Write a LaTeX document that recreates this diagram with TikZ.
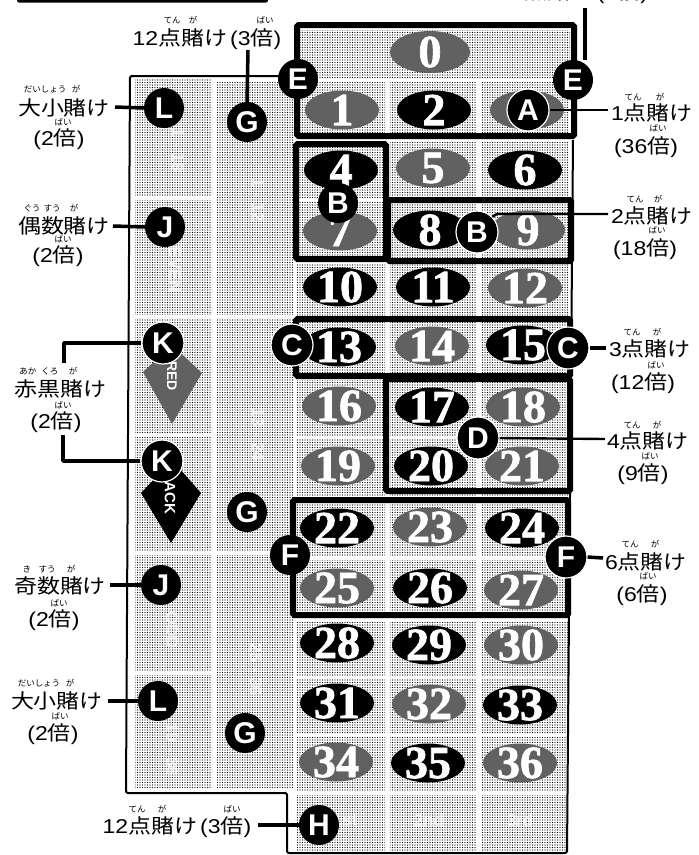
\documentclass[tikz,border=0pt]{standalone}
\usepackage{fontspec}
\usepackage{graphicx}
\setmainfont{Liberation Sans}
\newfontfamily\jp{Noto Sans CJK JP}
\newfontfamily\numfont{Liberation Serif Bold}[FakeBold=1.6]
\usetikzlibrary{patterns.meta,shapes.geometric}
\newcommand{\J}[1]{{\jp #1}}
\tikzset{
  cellbox/.style={pattern={Dots[distance=2.5pt,radius=0.62pt]},pattern color=black,draw=none},
  frameline/.style={draw=black,line width=2pt,line join=round},
  betbox/.style={draw=black,line width=6pt,rounded corners=1.5pt},
  redchip/.style={ellipse,fill=black!62,minimum width=74pt,minimum height=39pt,inner sep=0pt},
  blackchip/.style={ellipse,fill=black,minimum width=74pt,minimum height=39pt,inner sep=0pt},
  numtext/.style={text=white,font=\numfont\fontsize{46}{46}\selectfont,inner sep=0pt},
  marker/.style={circle,fill=black,minimum size=40pt,inner sep=0pt,text=white,font=\bfseries\fontsize{30}{30}\selectfont},
  halomarker/.style={marker,draw=white,line width=1.2pt,minimum size=42pt},
  conn/.style={draw=black,line width=3.5pt},
  thinconn/.style={draw=black,line width=2.4pt},
  lab/.style={font=\fontsize{23}{23}\selectfont,inner sep=1pt,text=black,anchor=base,yshift=-8pt,yscale=.87,transform shape},
  ruby/.style={font=\jp\fontsize{8.5}{8.5}\selectfont,inner sep=0pt,text=black},
  faint/.style={text=white,opacity=.75,font=\bfseries\fontsize{17}{17}\selectfont,inner sep=0pt},
}
\newcommand{\chipnum}[5]{% name,x,y,style,text
  \node[#4] (chip#1) at (#2,#3) {};
  \node[numtext] (num#1) at (#2,#3) {#5};
}
\begin{document}
\begin{tikzpicture}[x=1pt,y=-1pt]
\useasboundingbox (0,0) rectangle (699,855);
\clip (0,0) rectangle (699,855);
% top remnants
\fill[black,rounded corners=2pt] (17,-20) rectangle (268,2.5);
% cells: left columns
\foreach \a/\b in {79/195,200/314,318/432,437/550,555/670,675/787}
  \fill[cellbox] (135,\a) rectangle (212,\b);
\foreach \a/\b in {82/314,318/550,555/787}
  \fill[cellbox] (217,\a) rectangle (293,\b);
% cells: numbers
\fill[cellbox] (297,30) rectangle (570,78);
\foreach \a/\b in {82/136,142/197,201/258,264/316,322/375,380/435,439/495,502/555,560/615,622/675,678/733,737/790,795/851}{
  \fill[cellbox] (297,\a) rectangle (385,\b);
  \fill[cellbox] (390,\a) rectangle (476,\b);
  \fill[cellbox] (481,\a) rectangle (568,\b);
}
% faint table printing
\node[faint,rotate=-90] (tG1) at (258,200) {1 - 12};
\node[faint,rotate=-90] (tG2) at (258,435) {13 - 24};
\node[faint,rotate=-90] (tG3) at (256,670) {25 - 36};
\node[faint,rotate=-90] (tL1) at (178,150) {1 - 18};
\node[faint,rotate=-90] (tL2) at (175,270) {EVEN};
\node[faint,rotate=-90] (tL3) at (172,630) {ODD};
\node[faint,rotate=-90] (tL4) at (172,750) {19 - 36};
\node[faint] (t1st) at (345,820) {1st};
\node[faint] (t2nd) at (429,820) {2nd};
\node[faint] (t3rd) at (520,820) {3rd};
% frame
\draw[frameline,rounded corners=2pt] (290,76) -- (130,76) -- (126,793) -- (287,793) -- (287,853) -- (567,853) -- (573,140);
% diamonds
\fill[black!62] (172,345) -- (202,373) -- (172,424) -- (143,372) -- cycle;
\node[text=white,font=\bfseries\fontsize{14}{14}\selectfont,rotate=-90,inner sep=0pt] (tRED) at (172,376) {RED};
\fill[black] (172,460) -- (201,493) -- (171,543) -- (141,493) -- cycle;
\node[text=white,font=\bfseries\fontsize{15}{15}\selectfont,rotate=-90,inner sep=0pt] (tBLACK) at (170,488) {BLACK};
% numbers
\chipnum{0}{430}{52}{redchip,minimum width=80pt,minimum height=42pt}{0}
\chipnum{1}{342}{110}{redchip}{1}
\chipnum{2}{434}{110}{blackchip}{2}
\chipnum{3}{527}{110}{redchip}{3}
\chipnum{4}{341}{170}{blackchip}{4}
\chipnum{5}{433}{168}{redchip}{5}
\chipnum{6}{525}{170}{blackchip}{6}
\chipnum{7}{340}{231}{redchip}{7}
\chipnum{8}{430}{230}{blackchip}{8}
\chipnum{9}{528}{230}{redchip}{9}
\chipnum{10}{340}{287}{blackchip}{10}
\chipnum{11}{433}{287}{blackchip}{11}
\chipnum{12}{525}{288}{redchip}{12}
\chipnum{13}{339}{347}{blackchip}{13}
\chipnum{14}{432}{346}{redchip}{14}
\chipnum{15}{523}{345}{blackchip}{15}
\chipnum{16}{339}{406}{redchip}{16}
\chipnum{17}{432}{407}{blackchip}{17}
\chipnum{18}{523}{407}{redchip}{18}
\chipnum{19}{338}{466}{redchip}{19}
\chipnum{20}{431}{466}{blackchip}{20}
\chipnum{21}{522}{466}{redchip}{21}
\chipnum{22}{337}{528}{blackchip}{22}
\chipnum{23}{430}{527}{redchip}{23}
\chipnum{24}{522}{528}{blackchip}{24}
\chipnum{25}{337}{588}{redchip}{25}
\chipnum{26}{430}{588}{blackchip}{26}
\chipnum{27}{521}{590}{redchip}{27}
\chipnum{28}{337}{643}{blackchip}{28}
\chipnum{29}{429}{645}{blackchip}{29}
\chipnum{30}{521}{645}{redchip}{30}
\chipnum{31}{337}{703}{blackchip}{31}
\chipnum{32}{429}{704}{redchip}{32}
\chipnum{33}{520}{705}{blackchip}{33}
\chipnum{34}{336}{762}{redchip}{34}
\chipnum{35}{428}{763}{blackchip}{35}
\chipnum{36}{520}{763}{redchip}{36}
% bet boxes
\draw[betbox] (297,25) rectangle (574,136);
\draw[betbox] (296,144) rectangle (386,259);
\draw[betbox] (388,200) rectangle (571,261);
\draw[betbox] (296,319) rectangle (570,376);
\draw[betbox] (386,379) rectangle (570,491);
\draw[betbox] (293,500) rectangle (568,615);
% labels
\node[lab] (lG) at (207,37) {12\J{点賭け}\hspace{3pt}(3\J{倍})};
\node[lab] (lTop) at (580,-9) {4\J{点賭け}\hspace{3pt}(9\J{倍})};
\node[lab] (lL1) at (64,107) {\J{大小賭け}};
\node[lab] (lL1b) at (59,137) {(2\J{倍})};
\node[lab] (lJ1) at (64,225) {\J{偶数賭け}};
\node[lab] (lJ1b) at (58,254) {(2\J{倍})};
\node[lab] (lK) at (61,388) {\J{赤黒賭け}};
\node[lab] (lKb) at (56,420) {(2\J{倍})};
\node[lab] (lJ2) at (60,585) {\J{奇数賭け}};
\node[lab] (lJ2b) at (54,618) {(2\J{倍})};
\node[lab] (lL2) at (57,700) {\J{大小賭け}};
\node[lab] (lL2b) at (53,732) {(2\J{倍})};
\node[lab] (lH) at (177,825) {12\J{点賭け}\hspace{3pt}(3\J{倍})};
\node[lab] (lA) at (652,112) {1\J{点賭け}};
\node[lab] (lAb) at (646,145) {(36\J{倍})};
\node[lab] (lB) at (652,215) {2\J{点賭け}};
\node[lab] (lBb) at (645,247) {(18\J{倍})};
\node[lab] (lC) at (650,348) {3\J{点賭け}};
\node[lab] (lCb) at (643,381) {(12\J{倍})};
\node[lab] (lD) at (648,440) {4\J{点賭け}};
\node[lab] (lDb) at (643,472) {(9\J{倍})};
\node[lab] (lF) at (646,561) {6\J{点賭け}};
\node[lab] (lFb) at (642,593) {(6\J{倍})};
% ruby
\foreach \n/\x/\y/\t in {
 r1/172/20/てん,r2/193/20/が,r3/265/20/ばい,
 r4/45/89/だいしょう,r5/76/89/が,r6/63/122/ばい,
 r7/32/208/ぐう,r8/52/208/すう,r9/74/208/が,r10/63/239/ばい,
 r11/28/371/あか,r12/50/371/くろ,r13/73/371/が,r14/63/405/ばい,
 r15/27/569/き,r16/47/569/すう,r17/71/569/が,r18/59/603/ばい,
 r19/39/683/だいしょう,r20/70/683/が,r21/60/716/ばい,
 r22/137/809/てん,r23/162/809/が,r24/232/809/ばい,
 r25/633/97/てん,r26/660/97/が,r27/658/128/ばい,
 r28/635/199/てん,r29/658/199/が,r30/657/230/ばい,
 r31/632/332/てん,r32/657/332/が,r33/656/365/ばい,
 r34/632/425/てん,r35/657/425/が,r36/650/456/ばい,
 r37/630/544/てん,r38/655/544/が,r39/648/576/ばい}
  \node[ruby] (\n) at (\x,\y) {\t};
% markers
\node[marker] (mE1) at (298,79) {E};
\node[marker] (mE2) at (573,80) {E};
\node[marker] (mL1) at (164,108) {L};
\node[marker] (mG1) at (247,122) {G};
\node[marker] (mJ1) at (165,227) {J};
\node[marker] (mB1) at (338,203) {B};
\node[halomarker] (mA) at (528,110) {A};
\node[halomarker] (mB2) at (477,232) {B};
\node[halomarker] (mK1) at (163,343) {K};
\node[halomarker] (mK2) at (162,461) {K};
\node[marker] (mG2) at (247,512) {G};
\node[halomarker] (mC1) at (292,345) {C};
\node[halomarker] (mC2) at (568,348) {C};
\node[halomarker] (mD) at (478,438) {D};
\node[marker] (mF1) at (290,555) {F};
\node[halomarker] (mF2) at (566,557) {F};
\node[marker] (mJ2) at (161,585) {J};
\node[marker] (mL2) at (158,701) {L};
\node[marker] (mG3) at (245,733) {G};
\node[marker] (mH) at (319,825) {H};
% connectors
\coordinate (gTop) at (248,50);
\coordinate (eTop) at (585,8);
\coordinate (kTop) at (64,363);
\coordinate (kBot) at (63,435);
\coordinate (bEnd) at (608,214);
\coordinate (bKnee) at (497,214);
\draw[conn] (gTop) -- (mG1.north);
\draw[conn] (eTop) -- (eTop |- mE2.north);
\draw[conn] (mL1.west) -- (115,107);
\draw[conn] (mJ1.west) -- (113,226);
\draw[conn] (mJ2.west) -- (110,585);
\draw[conn] (mL2.west) -- (108,701);
\draw[conn] (mH.west) -- (258,825);
\draw[conn,line join=round] (kTop) -- (kTop |- mK1) -- (mK1.west);
\draw[conn,line join=round] (kBot) -- (kBot |- mK2) -- (mK2.west);
\draw[thinconn] (mA.east) -- (608,110);
\draw[thinconn] (mB2.north east) -- (bKnee) -- (bEnd);
\draw[conn] (mC2.east) -- (606,348);
\draw[thinconn] (mD.east) -- (605,439);
\draw[conn] (mF2.east) -- (603,558);
\end{tikzpicture}
\end{document}
